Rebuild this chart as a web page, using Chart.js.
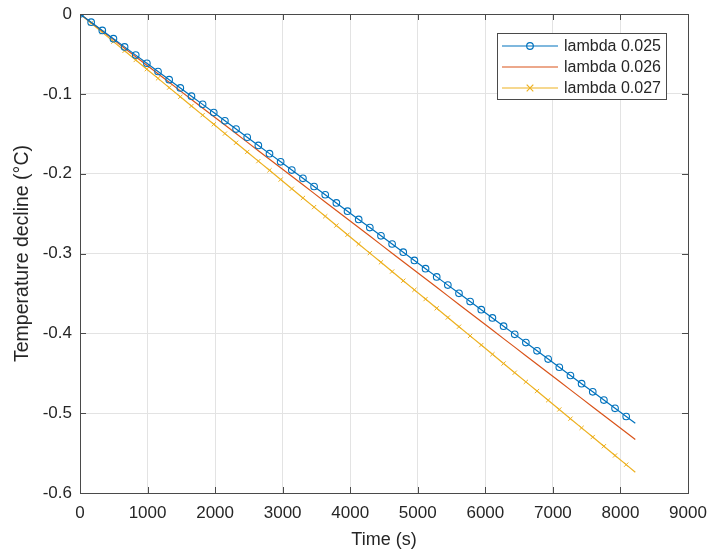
<!DOCTYPE html>
<html>
<head>
<meta charset="utf-8">
<script src="https://cdn.jsdelivr.net/npm/chart.js@4/dist/chart.umd.min.js"></script>
<style>
    html, body { margin: 0; padding: 0; background: #fff; }
    #wrap { width: 709px; height: 554px; }
</style>
</head>
<body>
<div id="wrap"><canvas id="tempChart" width="709" height="554"></canvas></div>
<script>
// Temperature decline over time for three lambda values
const timeS = [0, 165, 330, 495, 660, 825, 990, 1155, 1320, 1485, 1650, 1815, 1980, 2145, 2310, 2475,
    2640, 2805, 2970, 3135, 3300, 3465, 3630, 3795, 3960, 4125, 4290, 4455, 4620, 4785, 4950, 5115,
    5280, 5445, 5610, 5775, 5940, 6105, 6270, 6435, 6600, 6765, 6930, 7095, 7260, 7425, 7590, 7755,
    7920, 8085, 8220];

const lambda025 = [0, -0.0103, -0.0206, -0.0309, -0.0412, -0.0515, -0.0617, -0.0720, -0.0823, -0.0926,
    -0.1029, -0.1132, -0.1235, -0.1338, -0.1441, -0.1544, -0.1646, -0.1749, -0.1852, -0.1955, -0.2058,
    -0.2161, -0.2264, -0.2367, -0.2470, -0.2573, -0.2675, -0.2778, -0.2881, -0.2984, -0.3087, -0.3190,
    -0.3293, -0.3396, -0.3499, -0.3602, -0.3704, -0.3807, -0.3910, -0.4013, -0.4116, -0.4219, -0.4322,
    -0.4425, -0.4528, -0.4631, -0.4733, -0.4836, -0.4939, -0.5042, -0.5125];

const lambda026 = [0, -0.0107, -0.0214, -0.0321, -0.0428, -0.0535, -0.0642, -0.0749, -0.0856, -0.0963,
    -0.1070, -0.1177, -0.1284, -0.1391, -0.1498, -0.1605, -0.1712, -0.1819, -0.1926, -0.2033, -0.2140,
    -0.2247, -0.2354, -0.2461, -0.2568, -0.2675, -0.2782, -0.2889, -0.2996, -0.3103, -0.3210, -0.3317,
    -0.3424, -0.3531, -0.3638, -0.3745, -0.3852, -0.3959, -0.4066, -0.4173, -0.4280, -0.4387, -0.4494,
    -0.4601, -0.4708, -0.4815, -0.4922, -0.5029, -0.5136, -0.5243, -0.5330];

const lambda027 = [0, -0.0115, -0.0230, -0.0346, -0.0461, -0.0576, -0.0691, -0.0806, -0.0922, -0.1037,
    -0.1152, -0.1267, -0.1382, -0.1498, -0.1613, -0.1728, -0.1843, -0.1958, -0.2074, -0.2189, -0.2304,
    -0.2419, -0.2534, -0.2650, -0.2765, -0.2880, -0.2995, -0.3110, -0.3226, -0.3341, -0.3456, -0.3571,
    -0.3686, -0.3802, -0.3917, -0.4032, -0.4147, -0.4262, -0.4378, -0.4493, -0.4608, -0.4723, -0.4838,
    -0.4954, -0.5069, -0.5184, -0.5299, -0.5414, -0.5530, -0.5645, -0.5740];

const seriesLabels = ['lambda 0.025', 'lambda 0.026', 'lambda 0.027'];
const xTicks = [0, 1000, 2000, 3000, 4000, 5000, 6000, 7000, 8000, 9000];
const yTicks = [0, -0.1, -0.2, -0.3, -0.4, -0.5, -0.6];

const FONT = '"Liberation Sans", Arial, Helvetica, sans-serif';
const AXIS_COLOR = '#4a4a4a';
const TEXT_COLOR = '#262626';
const COLORS = ['#0072BD', '#D95319', '#EDB120'];
const STYLES = ['circle', false, 'crossRot'];

function toPoints(values) {
    return values.map((v, i) => ({ x: timeS[i], y: v }));
}

// Marker on every sample except the final end point
const markerRadius = r => ctx => (ctx.dataIndex === timeS.length - 1 ? 0 : r);

function drawMarker(ctx, style, x, y, r) {
    ctx.beginPath();
    if (style === 'circle') {
        ctx.arc(x, y, r, 0, Math.PI * 2);
    } else if (style === 'crossRot') {
        ctx.moveTo(x - r, y - r); ctx.lineTo(x + r, y + r);
        ctx.moveTo(x + r, y - r); ctx.lineTo(x - r, y + r);
    }
    ctx.stroke();
}

// MATLAB-like box with inward ticks on all four sides, plus an inset legend
const boxPlugin = {
    id: 'matlabBox',
    afterDraw(chart) {
        const { ctx, chartArea: a, scales } = chart;
        ctx.save();
        ctx.strokeStyle = AXIS_COLOR;
        ctx.lineWidth = 1;
        ctx.strokeRect(a.left + 0.5, a.top + 0.5, a.right - a.left, a.bottom - a.top);
        const tl = 6;
        ctx.beginPath();
        xTicks.forEach(v => {
            const px = Math.round(scales.x.getPixelForValue(v)) + 0.5;
            ctx.moveTo(px, a.bottom); ctx.lineTo(px, a.bottom - tl);
            ctx.moveTo(px, a.top); ctx.lineTo(px, a.top + tl);
        });
        yTicks.forEach(v => {
            const py = Math.round(scales.y.getPixelForValue(v)) + 0.5;
            ctx.moveTo(a.left, py); ctx.lineTo(a.left + tl, py);
            ctx.moveTo(a.right, py); ctx.lineTo(a.right - tl, py);
        });
        ctx.stroke();

        // legend
        const lx = 497, ly = 33, lw = 169, lh = 66, rowH = 21;
        ctx.fillStyle = '#fff';
        ctx.fillRect(lx, ly, lw, lh);
        ctx.strokeStyle = AXIS_COLOR;
        ctx.strokeRect(lx + 0.5, ly + 0.5, lw, lh);
        ctx.font = '16px ' + FONT;
        ctx.textBaseline = 'middle';
        ctx.textAlign = 'left';
        chart.data.datasets.forEach((ds, i) => {
            const y = ly + 13 + i * rowH;
            ctx.strokeStyle = ds.borderColor;
            ctx.lineWidth = 1.2;
            ctx.beginPath();
            ctx.moveTo(lx + 5, y); ctx.lineTo(lx + 61, y);
            ctx.stroke();
            if (STYLES[i]) drawMarker(ctx, STYLES[i], lx + 33, y, 3.3);
            ctx.fillStyle = TEXT_COLOR;
            ctx.fillText(ds.label, lx + 67, y + 1);
        });
        ctx.restore();
    }
};

const canvas = document.getElementById('tempChart');
new Chart(canvas.getContext('2d'), {
    type: 'line',
    data: {
        datasets: [
            {
                label: seriesLabels[0],
                data: toPoints(lambda025),
                borderColor: COLORS[0],
                borderWidth: 1.2,
                pointStyle: 'circle',
                pointRadius: markerRadius(3.3),
                pointBorderWidth: 1.1,
                pointBorderColor: COLORS[0],
                pointBackgroundColor: 'rgba(0,0,0,0)',
                fill: false,
                tension: 0
            },
            {
                label: seriesLabels[1],
                data: toPoints(lambda026),
                borderColor: COLORS[1],
                borderWidth: 1.2,
                pointRadius: 0,
                fill: false,
                tension: 0
            },
            {
                label: seriesLabels[2],
                data: toPoints(lambda027),
                borderColor: COLORS[2],
                borderWidth: 1.2,
                pointStyle: 'crossRot',
                pointRadius: markerRadius(3),
                pointBorderWidth: 1,
                pointBorderColor: COLORS[2],
                fill: false,
                tension: 0
            }
        ]
    },
    options: {
        responsive: false,
        animation: false,
        devicePixelRatio: 1,
        layout: { padding: { top: 14, right: 21, bottom: 0, left: 0 } },
        plugins: {
            legend: { display: false },
            tooltip: { enabled: false }
        },
        scales: {
            x: {
                type: 'linear',
                min: 0,
                max: 9000,
                afterBuildTicks: scale => { scale.ticks = xTicks.map(v => ({ value: v })); },
                afterFit: scale => {
                    scale.height = 61;
                    scale.paddingLeft = 0;
                    scale.paddingRight = 0;
                },
                grid: { color: '#e3e3e3', drawTicks: false },
                border: { display: false },
                ticks: {
                    padding: 10,
                    color: TEXT_COLOR,
                    font: { family: FONT, size: 17 },
                    maxRotation: 0,
                    callback: v => String(v)
                },
                title: {
                    display: true,
                    text: 'Time (s)',
                    color: TEXT_COLOR,
                    font: { family: FONT, size: 18 },
                    padding: { top: 0, bottom: 3 }
                }
            },
            y: {
                min: -0.6,
                max: 0,
                afterBuildTicks: scale => { scale.ticks = yTicks.map(v => ({ value: v })); },
                afterFit: scale => {
                    scale.width = 80;
                    scale.paddingTop = 0;
                    scale.paddingBottom = 0;
                },
                grid: { color: '#e3e3e3', drawTicks: false },
                border: { display: false },
                ticks: {
                    padding: 8,
                    color: TEXT_COLOR,
                    font: { family: FONT, size: 17 },
                    callback: v => String(Math.round(v * 10) / 10)
                },
                title: {
                    display: true,
                    text: 'Temperature decline (°C)',
                    color: TEXT_COLOR,
                    font: { family: FONT, size: 19.5 },
                    padding: { top: 11, bottom: 0 }
                }
            }
        }
    },
    plugins: [boxPlugin]
});
</script>
</body>
</html>
